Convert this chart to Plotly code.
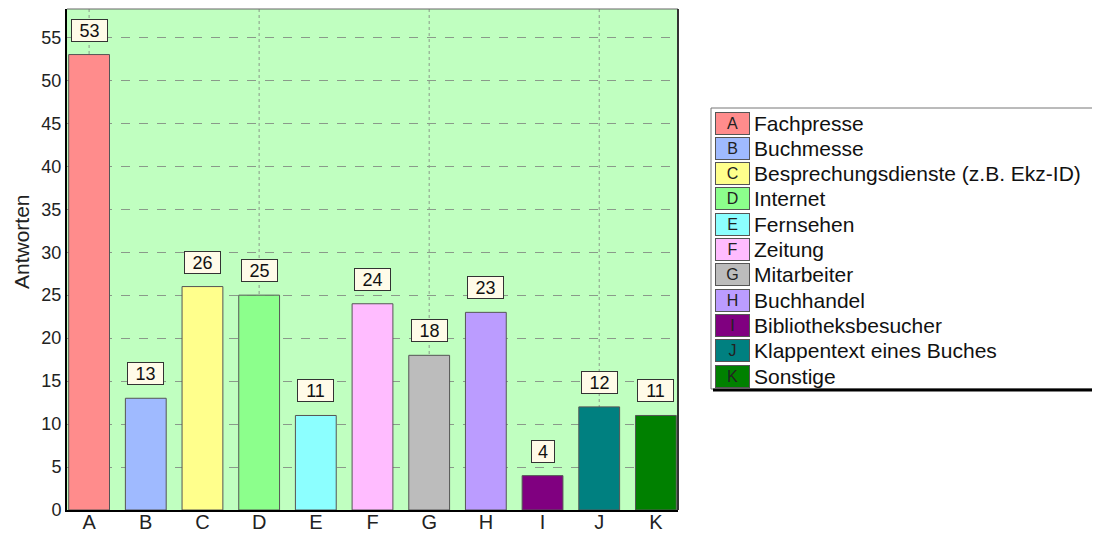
import plotly.graph_objects as go

categories = ["A", "B", "C", "D", "E", "F", "G", "H", "I", "J", "K"]
values = [53, 13, 26, 25, 11, 24, 18, 23, 4, 12, 11]
names = ["Fachpresse", "Buchmesse", "Besprechungsdienste (z.B. Ekz-ID)", "Internet",
         "Fernsehen", "Zeitung", "Mitarbeiter", "Buchhandel", "Bibliotheksbesucher",
         "Klappentext eines Buches", "Sonstige"]
colors = ["#ff8c8c", "#9fbaff", "#ffff8c", "#8cff8c", "#8cffff", "#ffbcff",
          "#bcbcbc", "#bb9cff", "#800080", "#008080", "#008000"]
y_ticks = list(range(0, 60, 5))
y_title = "Antworten"

OFF = 8  # default page body margin
W, H = 1100 - OFF, 533 - OFF
L, R, T, B = 67 - OFF, 678 - OFF, 9 - OFF, 510 - OFF
FONT = "Liberation Sans, Arial, sans-serif"

def px(x):
    return (x - OFF - L) / (R - L)

def py(y):
    return (B - (y - OFF)) / (B - T)

fig = go.Figure()
fig.add_trace(go.Bar(
    x=categories, y=values, marker=dict(color=colors, line=dict(color="#555555", width=1)),
    width=0.72, showlegend=False, hoverinfo="x+y"))

annotations = []
for c, v in zip(categories, values):
    t = str(v)
    annotations.append(dict(x=c, y=v, xref="x", yref="y", text=t, showarrow=False,
                            yanchor="bottom", yshift=13, bgcolor="#fffbe8",
                            width=13 * len(t) + 3, height=15,
                            bordercolor="#333333", borderwidth=1, borderpad=3,
                            font=dict(family=FONT, size=18, color="#111")))

shapes = []
for i in range(0, len(categories), 3):
    shapes.append(dict(type="line", xref="x", yref="paper", x0=categories[i], x1=categories[i],
                       y0=0, y1=1, line=dict(color="#8a9a8a", width=1, dash="dot"), layer="below"))

# legend frame
shapes.append(dict(type="rect", xref="paper", yref="paper", x0=px(711), x1=px(1100),
                   y0=py(389), y1=py(108), line=dict(color="#777", width=1), fillcolor="white"))
shapes.append(dict(type="line", xref="paper", yref="paper", x0=px(713), x1=px(1100),
                   y0=py(390), y1=py(390), line=dict(color="#000", width=3)))

row0, step = 123, 25.3
for i, (c, n, col) in enumerate(zip(categories, names, colors)):
    yc = row0 + i * step
    annotations.append(dict(x=px(732), y=py(yc), xref="paper", yref="paper", text=c,
                            showarrow=False, xanchor="center", yanchor="middle",
                            width=33, height=21, bgcolor=col, bordercolor="#555",
                            borderwidth=1, borderpad=0,
                            font=dict(family=FONT, size=16, color="#222")))
    annotations.append(dict(x=px(752), y=py(yc), xref="paper", yref="paper", text=n,
                            showarrow=False, xanchor="left", yanchor="middle",
                            font=dict(family=FONT, size=21, color="#111")))

# y-axis title
annotations.append(dict(x=px(22), y=py(242), xref="paper", yref="paper", text=y_title,
                        textangle=-90, showarrow=False, xanchor="center", yanchor="middle",
                        font=dict(family=FONT, size=21, color="#222")))

fig.update_layout(
    width=W, height=H,
    margin=dict(l=L, r=W - R, t=T, b=H - B, autoexpand=False),
    paper_bgcolor="white", plot_bgcolor="#c0ffc0",
    font=dict(family=FONT, size=18, color="#222"),
    xaxis=dict(range=[-0.39, 10.39], showgrid=False, tickfont=dict(size=20),
               showline=True, linecolor="#000", linewidth=2, mirror=False,
               ticks="", automargin=False, fixedrange=True, ticklabelstandoff=-7),
    yaxis=dict(range=[0, 58.3], tickvals=y_ticks, showgrid=True, gridcolor="#8a9a8a",
               griddash="dash", gridwidth=1, tickfont=dict(size=18),
               showline=True, linecolor="#000", linewidth=2, ticks="",
               zeroline=False, automargin=False, fixedrange=True),
    annotations=annotations, shapes=shapes,
)
fig.add_shape(type="line", xref="paper", yref="paper", x0=0, x1=1, y0=1, y1=1,
              line=dict(color="#666", width=1))
fig.add_shape(type="line", xref="paper", yref="paper", x0=1, x1=1, y0=0, y1=1,
              line=dict(color="#333", width=2))

fig.write_html("out.html")
